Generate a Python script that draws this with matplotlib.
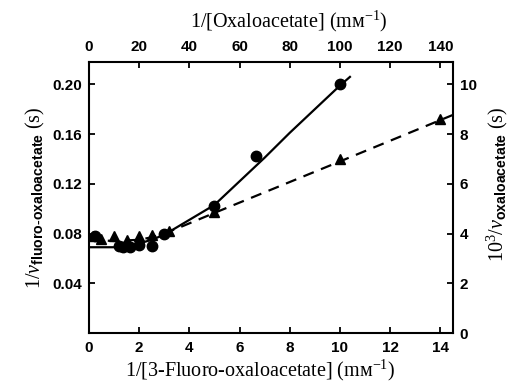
import matplotlib
matplotlib.use("Agg")
import matplotlib.pyplot as plt

# 3-fluoro-oxaloacetate: x = 1/[F-OAA] (mM^-1), y = 1/v (s)
fluoro_x = [0.25, 1.2, 1.35, 1.65, 2.0, 2.5, 3.0, 5.0, 6.67, 10.0]
fluoro_y = [0.078, 0.070, 0.069, 0.069, 0.071, 0.070, 0.080, 0.102, 0.142, 0.200]
# fitted curve for 3-fluoro-oxaloacetate
fluoro_fit_x = [0.0, 0.5, 1.0, 1.5, 2.0, 2.5, 3.0, 3.5, 4.0, 5.0, 6.0, 7.0, 8.0, 9.0, 10.0, 10.4]
fluoro_fit_y = [0.069, 0.069, 0.069, 0.070, 0.072, 0.075, 0.079, 0.085, 0.091, 0.103, 0.122, 0.141, 0.161, 0.180, 0.199, 0.206]

# oxaloacetate: x = 1/[OAA] (mM^-1), y = 10^3/v (s)
oaa_x = [1.5, 5, 10, 15, 20, 25, 32, 50, 100, 140]
oaa_y = [3.9, 3.8, 3.9, 3.75, 3.9, 3.95, 4.1, 4.85, 7.0, 8.6]
# fitted curve for oxaloacetate
oaa_fit_x = [0, 10, 20, 25, 30, 35, 50, 100, 145]
oaa_fit_y = [3.75, 3.7, 3.75, 3.85, 4.0, 4.2, 4.83, 6.9, 8.77]

bottom_ticks = [0, 2, 4, 6, 8, 10, 12, 14]
top_ticks = [0, 20, 40, 60, 80, 100, 120, 140]
left_ticks = [0.04, 0.08, 0.12, 0.16, 0.20]
right_ticks = [0, 2, 4, 6, 8, 10]

plt.rcParams['mathtext.fontset'] = 'custom'
plt.rcParams['mathtext.rm'] = 'Liberation Serif'
plt.rcParams['mathtext.it'] = 'Liberation Serif:italic'
plt.rcParams['mathtext.bf'] = 'Liberation Sans:bold'

fig = plt.figure(figsize=(5.14, 3.85), dpi=100)
pos = [0.173, 0.135, 0.708, 0.704]
ax = fig.add_axes(pos)
ax2 = fig.add_axes(pos, frameon=False)

tick_font = dict(family='Liberation Sans', weight='bold', size=11)
label_font = dict(family=['Liberation Serif', 'DejaVu Serif'], size=14.5)

# fluoro-oxaloacetate on bottom/left axes
ax.plot(fluoro_fit_x, fluoro_fit_y, color='black', lw=1.6, zorder=2)
ax.plot(fluoro_x, fluoro_y, 'o', color='black', ms=7.5, zorder=3)
ax.set_xlim(0, 14.5)
ax.set_ylim(0, 0.218)
ax.set_xticks(bottom_ticks)
ax.set_xticklabels([str(t) for t in bottom_ticks], fontdict=tick_font)
ax.set_yticks(left_ticks)
ax.set_yticklabels([f"{t:.2f}" for t in left_ticks], fontdict=tick_font)
ax.tick_params(direction='in', length=4, width=1.3)
ax.tick_params(axis='x', pad=6)
ax.tick_params(axis='y', pad=5)
for s in ax.spines.values():
    s.set_linewidth(1.5)

# oxaloacetate on top/right axes
ax2.plot(oaa_fit_x, oaa_fit_y, color='black', lw=1.6, ls=(0, (5, 3.5)), zorder=2)
ax2.plot(oaa_x, oaa_y, '^', color='black', ms=7, zorder=3)
ax2.set_xlim(0, 145)
ax2.set_ylim(0, 10.9)
ax2.xaxis.tick_top()
ax2.yaxis.tick_right()
ax2.xaxis.set_label_position('top')
ax2.yaxis.set_label_position('right')
ax2.set_xticks(top_ticks)
ax2.set_xticklabels([str(t) for t in top_ticks], fontdict=tick_font)
ax2.set_yticks(right_ticks)
ax2.set_yticklabels([str(t) for t in right_ticks], fontdict=tick_font)
ax2.tick_params(direction='in', length=4, width=1.3)
ax2.tick_params(axis='x', pad=6)
ax2.tick_params(axis='y', pad=5)

ax.set_xlabel("1/[3-Fluoro-oxaloacetate] (mᴍ$^{-1}$)", fontdict=label_font, labelpad=2)
ax.xaxis.label.set_x(0.47)
ax2.set_xlabel("1/[Oxaloacetate] (mᴍ$^{-1}$)", fontdict=label_font, labelpad=9)
ax2.xaxis.label.set_x(0.55)
ax.set_ylabel(r"1/$\mathit{v}_{\mathbf{fluoro\text{-}oxaloacetate}}$ (s)", fontdict=label_font, labelpad=4)
ax2.set_ylabel(r"10$^3$/$\mathit{v}_{\mathbf{oxaloacetate}}$ (s)", fontdict=label_font,
               rotation=90, labelpad=6)
ax2.yaxis.label.set_y(0.55)

fig.savefig("out.png", dpi=100)
